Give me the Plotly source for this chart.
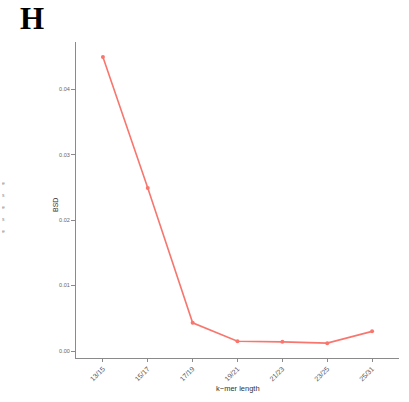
import plotly.graph_objects as go

kmer_labels = ["13/15", "15/17", "17/19", "19/21", "21/23", "23/25", "25/31"]
bsd_values = [0.0449, 0.0249, 0.0043, 0.0015, 0.0014, 0.0012, 0.0030]
y_ticks = [0.00, 0.01, 0.02, 0.03, 0.04]
y_ticktext = ["0.00", "0.01", "0.02", "0.03", "0.04"]
legend_fragments = ["e", "s", "e", "s", "e"]

W, H = 409, 402
L, R, T, B = 76, 10, 42, 44
pw, ph = W - L - R, H - T - B

fig = go.Figure()
fig.add_trace(go.Scatter(
    x=kmer_labels, y=bsd_values, mode="lines+markers",
    line=dict(color="#F8766D", width=1.6),
    marker=dict(color="#F8766D", size=4),
    showlegend=False, cliponaxis=False,
))

axis_col = "#8a8a8a"
fig.update_layout(
    width=W, height=H,
    margin=dict(l=L, r=R, t=T, b=B, pad=0),
    paper_bgcolor="white", plot_bgcolor="white",
    font=dict(family="Liberation Sans, Arial, sans-serif", color="#555555"),
    xaxis=dict(
        type="category", range=[-0.6, 6.6],
        showline=True, linecolor=axis_col, linewidth=1.2,
        showgrid=False, zeroline=False,
        ticks="outside", ticklen=3, tickcolor=axis_col, tickwidth=1,
        tickangle=-45, tickfont=dict(size=7, color="#555555"),
    ),
    yaxis=dict(
        range=[-0.00107, 0.0472],
        tickvals=y_ticks, ticktext=y_ticktext,
        showline=True, linecolor=axis_col, linewidth=1.2,
        showgrid=False, zeroline=False,
        ticks="outside", ticklen=4, tickcolor=axis_col, tickwidth=1,
        tickfont=dict(size=5.5, color="#666666"),
    ),
)

def px_x(p):
    return (p - L) / pw

def px_y(p):
    return (H - B - p) / ph

fig.add_annotation(text="BSD", xref="paper", yref="paper",
                   x=px_x(55), y=px_y(205), xanchor="center", yanchor="middle",
                   textangle=-90, showarrow=False,
                   font=dict(size=7, color="#333333"))
fig.add_annotation(text="k\u2212mer length", xref="paper", yref="paper",
                   x=0.5, y=px_y(388), xanchor="center", yanchor="middle",
                   showarrow=False, font=dict(size=7.5, color="#333333"))
fig.add_annotation(text="<b>H</b>", xref="paper", yref="paper",
                   x=px_x(32), y=px_y(18), xanchor="center", yanchor="middle",
                   showarrow=False,
                   font=dict(size=31, family="Liberation Serif, Times New Roman, serif", color="black"))

for i, t in enumerate(legend_fragments):
    ypix = 183 + 12 * i
    fig.add_annotation(text=t, xref="paper", yref="paper",
                       x=px_x(0), y=px_y(ypix), xanchor="left", yanchor="middle",
                       showarrow=False,
                       font=dict(size=5, color="#888888"))

fig.write_html("out.html")
